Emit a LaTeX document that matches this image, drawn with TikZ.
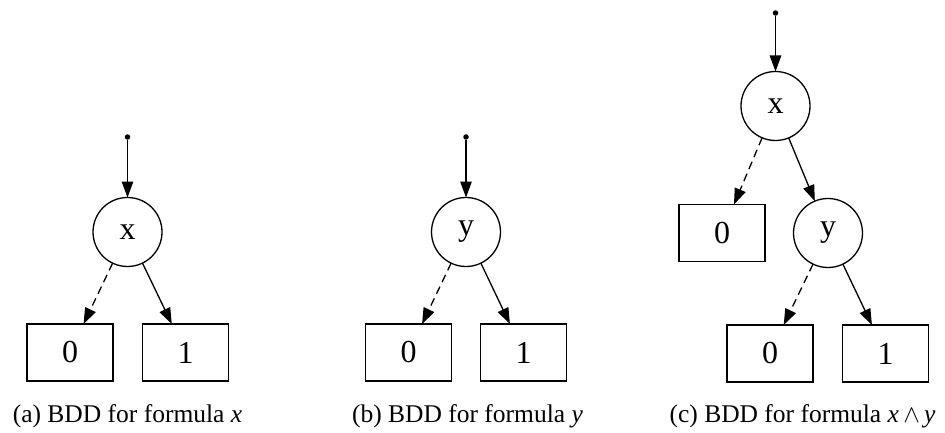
\documentclass[tikz,border=0pt]{standalone}
\usepackage{fontspec}
\setmainfont{Liberation Serif}
\usetikzlibrary{arrows.meta}
\begin{document}
\begin{tikzpicture}[x=1pt,y=-1pt,
  every node/.style={inner sep=0pt,outer sep=0pt},
  nodefont/.style={font=\fontsize{32}{32}\selectfont},
  var/.style={circle,draw,line width=1.3pt,minimum size=69pt,nodefont},
  term/.style={rectangle,draw,line width=1.3pt,minimum width=86pt,minimum height=57pt,nodefont},
  root/.style={circle,fill,minimum size=5.5pt},
  hi/.style={line width=1.3pt,-{Triangle[length=16pt,width=11.5pt]}},
  lo/.style={hi,dash pattern=on 8pt off 5pt},
  caption/.style={font=\fontsize{25.5}{29}\selectfont,anchor=base}
]
\useasboundingbox (0,0) rectangle (945,433);

% (a) BDD for x
\node[root] (ra) at (127.5,137) {};
\node[var] (xa) at (127.5,232) {x};
\node[term] (a0) at (70,352.5) {0};
\node[term] (a1) at (185.5,352.5) {1};
\draw[hi] (ra) -- (xa);
\draw[lo] (xa) -- (a0);
\draw[hi] (xa) -- (a1);
\node[caption] (capa) at (127.5,422) {(a) BDD for formula \textit{x}};

% (b) BDD for y
\node[root] (rb) at (466,137) {};
\node[var] (yb) at (466,232) {y};
\node[term] (b0) at (408.5,352.5) {0};
\node[term] (b1) at (523.5,352.5) {1};
\draw[hi] (rb) -- (yb);
\draw[lo] (yb) -- (b0);
\draw[hi] (yb) -- (b1);
\node[caption] (capb) at (467.5,422) {(b) BDD for formula \textit{y}};

% (c) BDD for x and y
\node[root] (rc) at (775.5,13) {};
\node[var] (xc) at (775.5,106) {x};
\node[term] (c0a) at (722,233) {0};
\node[var] (yc) at (828,233) {y};
\node[term] (c0) at (770,353.5) {0};
\node[term] (c1) at (885.5,353.5) {1};
\draw[hi] (rc) -- (xc);
\draw[lo] (xc) -- (c0a);
\draw[hi] (xc) -- (yc);
\draw[lo] (yc) -- (c0);
\draw[hi] (yc) -- (c1);
\node[caption] (capc) at (802.5,422) {(c) BDD for formula \textit{x}\,$\wedge$\,\textit{y}};
\end{tikzpicture}
\end{document}
